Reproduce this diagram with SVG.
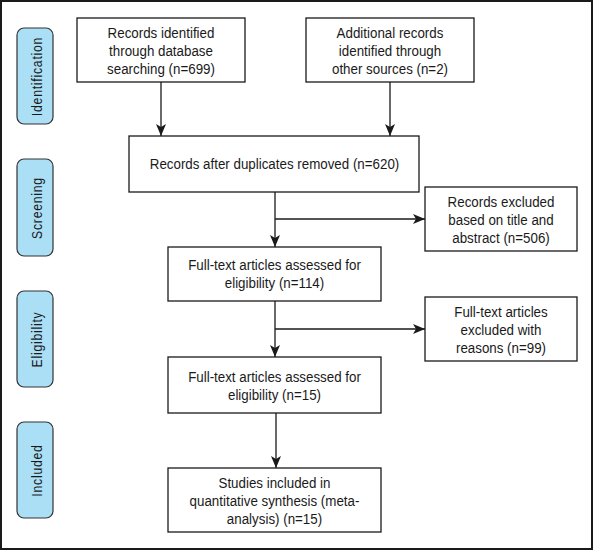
<svg xmlns="http://www.w3.org/2000/svg" width="594" height="551" viewBox="0 0 594 551">
<defs>
<marker id="ah" viewBox="0 0 12 10" refX="12" refY="5" markerWidth="12" markerHeight="10" markerUnits="userSpaceOnUse" orient="auto">
<path d="M0,0 L12,5 L0,10 L3,5 z" fill="#1a1a1a"/>
</marker>
<style>
.box{fill:#fff;stroke:#1a1a1a;stroke-width:1.3}
.side{fill:#aadff6;stroke:#333;stroke-width:1.2}
.t{font-family:"Liberation Sans",Arial,sans-serif;font-size:15px;fill:#1a1a1a;text-anchor:middle}
.s{font-family:"Liberation Sans",Arial,sans-serif;font-size:14px;fill:#1a1a1a;text-anchor:middle;letter-spacing:0.9px}
.c{fill:none;stroke:#1a1a1a;stroke-width:1.3}
</style>
</defs>
<rect x="1" y="1" width="591" height="548" fill="#fff" stroke="#1a1a1a" stroke-width="2"/>
<g id="phase-identification"><rect class="side" x="17" y="28" width="36" height="96" rx="7"/><text class="s" transform="translate(41.5,76.5) rotate(-90) scale(0.87,1)">Identification</text></g>
<g id="phase-screening"><rect class="side" x="17" y="159" width="36" height="97" rx="7"/><text class="s" transform="translate(41.5,208) rotate(-90) scale(0.87,1)">Screening</text></g>
<g id="phase-eligibility"><rect class="side" x="17" y="291" width="36" height="96" rx="7"/><text class="s" transform="translate(41.5,339.5) rotate(-90) scale(0.87,1)">Eligibility</text></g>
<g id="phase-included"><rect class="side" x="17" y="422" width="36" height="96" rx="7"/><text class="s" transform="translate(41.5,470.5) rotate(-90) scale(0.87,1)">Included</text></g>
<g id="connectors">
<path class="c" d="M161,82 V136" marker-end="url(#ah)"/>
<path class="c" d="M390,82 V136" marker-end="url(#ah)"/>
<path class="c" d="M275,192 V247" marker-end="url(#ah)"/>
<path class="c" d="M275,219 H425" marker-end="url(#ah)"/>
<path class="c" d="M275,301 V357" marker-end="url(#ah)"/>
<path class="c" d="M275,329 H425" marker-end="url(#ah)"/>
<path class="c" d="M276,413 V468" marker-end="url(#ah)"/>
</g>
<g id="n1"><rect class="box" x="77" y="18" width="168" height="64"/><g transform="translate(161,0) scale(0.89,1)"><text class="t" x="0" y="38">Records identified</text><text class="t" x="0" y="56">through database</text><text class="t" x="0" y="74">searching (n=699)</text></g></g>
<g id="n2"><rect class="box" x="306" y="18" width="168" height="64"/><g transform="translate(390,0) scale(0.89,1)"><text class="t" x="0" y="38">Additional records</text><text class="t" x="0" y="56">identified through</text><text class="t" x="0" y="74">other sources (n=2)</text></g></g>
<g id="n3"><rect class="box" x="129" y="136" width="290" height="56"/><g transform="translate(274.5,0) scale(0.89,1)"><text class="t" x="0" y="169">Records after duplicates removed (n=620)</text></g></g>
<g id="n4"><rect class="box" x="425" y="187" width="152" height="64"/><g transform="translate(501,0) scale(0.89,1)"><text class="t" x="0" y="207">Records excluded</text><text class="t" x="0" y="225">based on title and</text><text class="t" x="0" y="243">abstract (n=506)</text></g></g>
<g id="n5"><rect class="box" x="168" y="247" width="213" height="54"/><g transform="translate(274.5,0) scale(0.89,1)"><text class="t" x="0" y="270">Full-text articles assessed for</text><text class="t" x="0" y="288">eligibility (n=114)</text></g></g>
<g id="n6"><rect class="box" x="425" y="297" width="152" height="64"/><g transform="translate(501,0) scale(0.89,1)"><text class="t" x="0" y="317">Full-text articles</text><text class="t" x="0" y="335">excluded with</text><text class="t" x="0" y="353">reasons (n=99)</text></g></g>
<g id="n7"><rect class="box" x="168" y="357" width="213" height="56"/><g transform="translate(274.5,0) scale(0.89,1)"><text class="t" x="0" y="382">Full-text articles assessed for</text><text class="t" x="0" y="400">eligibility (n=15)</text></g></g>
<g id="n8"><rect class="box" x="168" y="468" width="213" height="64"/><g transform="translate(274.5,0) scale(0.89,1)"><text class="t" x="0" y="488">Studies included in</text><text class="t" x="0" y="506">quantitative synthesis (meta-</text><text class="t" x="0" y="524">analysis) (n=15)</text></g></g>
</svg>
